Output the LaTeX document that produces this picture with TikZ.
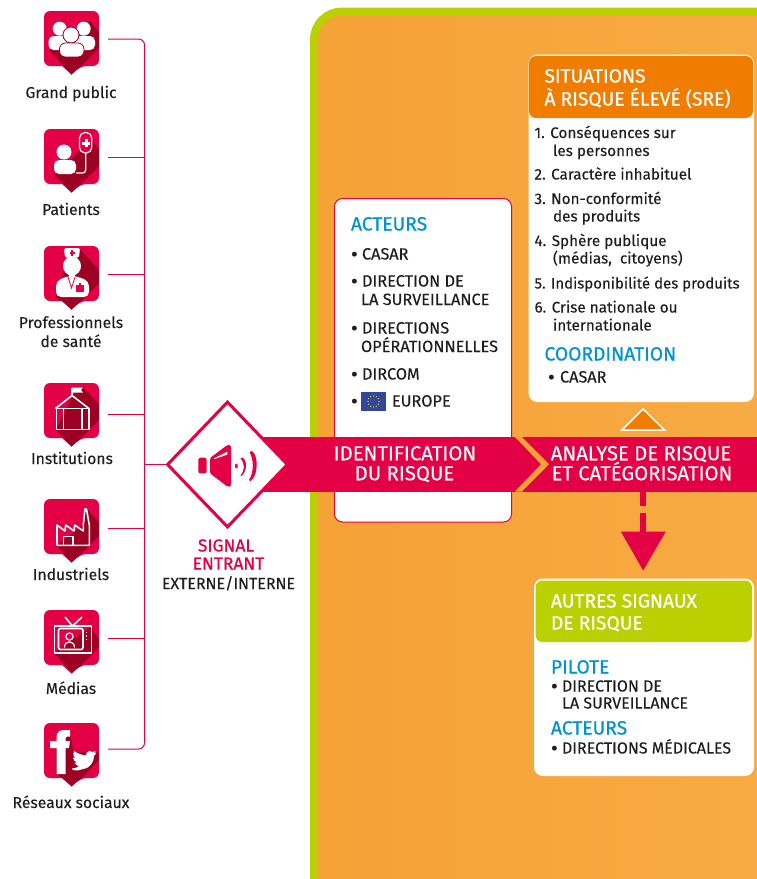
\documentclass[tikz,border=0pt]{standalone}
\usepackage{fontspec}
\setmainfont[FakeBold=0.12]{Fira Sans}
\newfontfamily\medfont[FakeBold=0.6]{Fira Sans}
\usetikzlibrary{shapes.geometric}
\definecolor{crim}{HTML}{E30045}
\definecolor{dark}{HTML}{9C0022}
\definecolor{lime}{HTML}{BBD000}
\definecolor{orL}{HTML}{F5A236}
\definecolor{orR}{HTML}{F8AB45}
\definecolor{orH}{HTML}{F07D00}
\definecolor{blu}{HTML}{0092D2}
\definecolor{ink}{HTML}{1E1E1E}
\definecolor{euflag}{HTML}{33469E}
\newcommand{\fs}[1]{\fontsize{#1}{#1}\selectfont}
\newcommand{\pinshape}{[rounded corners=6pt] (0,27) -- (0,0) -- (55,0) -- (55,55) -- (37,55) [sharp corners] -- (27.5,63.5) -- (18,55) [rounded corners=6pt] -- (0,55) -- cycle}
\newcommand{\pinicon}[5]{%
 \begin{scope}[shift={(#2,#3)}]
  \path[fill=crim] \pinshape;
  \begin{scope}\clip \pinshape; \fill[dark] #4 -- cycle;\end{scope}
  \node[inner sep=0,minimum width=55pt,minimum height=63pt,anchor=north west] (#1) at (0,0) {};
  #5
 \end{scope}}
\tikzset{
 x=1pt,y=-1pt,
 wire/.style={draw=crim,line width=1pt,rounded corners=6pt},
 lab/.style={inner sep=0,outer sep=0,font=\fs{15.7},text=ink,align=center,text height=11pt,text depth=1pt},
 tx/.style={inner sep=0,outer sep=0,anchor=west,font=\fs{15.3},text=ink,text height=11pt,text depth=1pt},
 itx/.style={tx},
 captx/.style={tx,font=\fs{16.3}},
 hd/.style={tx,font=\medfont\fs{19.2},text=white,text height=13pt},
 bh/.style={tx,font=\medfont\fs{19.2},text=blu,text height=13pt},
 band/.style={inner sep=0,outer sep=0,font=\fs{20.3},text=white,text height=13.5pt,text depth=1pt},
 wl/.style={draw=white,line width=1.6pt,fill=none,line join=round},
}
\newcommand{\bul}{\makebox[11pt][l]{\raisebox{-1.8pt}{\fs{21}•}}}
\begin{document}
\begin{tikzpicture}
\useasboundingbox (0,0) rectangle (757,879);
\clip (0,0) rectangle (757,879);
\fill[white] (0,0) rectangle (757,879);
% panel
\draw[lime,line width=8pt,rounded corners=28pt,left color=orL,right color=orR] (314,11.5) rectangle (800,930);
% pins
\pinicon{p1}{44}{11}{(5,39) -- (28,64) -- (55,37) -- (55,21) -- (46,10)}{
 \fill[white] (15.7,17.7) circle[radius=7pt];
 \fill[white] (39.7,17.7) circle[radius=7pt];
 \fill[white,rounded corners=5pt] (4.5,39) -- (4.5,25) -- (24,25) -- (24,39) -- cycle;
 \fill[white,rounded corners=5pt] (31,39) -- (31,25) -- (51,25) -- (51,39) -- cycle;
 \fill[white,draw=dark,line width=.8pt] (27,24) circle[radius=8pt];
 \fill[white,draw=dark,line width=.8pt,rounded corners=6pt] (15.5,46) -- (15.5,32) -- (40,32) -- (40,46) -- cycle;
 \fill[dark] (14.7,46) rectangle (40.8,46.3);
}
\pinicon{p2}{44}{129}{(10,45) -- (28,64) -- (55,37) -- (55,20) -- (48,12) -- (36,22)}{
 \fill[white] (20,23) circle[radius=7.5pt];
 \fill[white,rounded corners=5pt] (10,45) -- (10,31) -- (32,31) -- (32,45) -- cycle;
 \draw[white,line width=1.2pt,rounded corners=3pt] (41.7,24) -- (41.7,44) -- (32,44);
 \draw[white,line width=1.2pt,fill=crim,rounded corners=5.5pt] (35.5,3.5) rectangle (47.8,24);
 \fill[white] (38,12.6) rectangle (46,15.6);
 \fill[white] (40.5,10) rectangle (43.5,18);
}
\pinicon{p3}{44}{246}{(12,51) -- (28,64) -- (55,37) -- (55,24) -- (36,3) -- (24,12)}{
 \fill[white,rounded corners=1.5pt] (20,2) -- (36,2) -- (35,11.5) -- (21,11.5) -- cycle;
 \fill[crim] (25.5,6.2) rectangle (30.5,8); \fill[crim] (27.1,4.2) rectangle (28.9,10);
 \fill[white] (28,20) ellipse[x radius=9pt,y radius=9.5pt];
 \fill[white] (25,26) rectangle (31,33);
 \fill[white,rounded corners=5pt] (12,51) -- (12,35) -- (24,30) -- (32,30) -- (45,35) -- (45,51) -- cycle;
 \draw[crim,line width=.8pt] (24,31) -- (27.5,42) -- (31,31);
 \fill[crim] (32,38.5) rectangle (40,45.5); \fill[crim] (35,36.5) rectangle (37,39);
}
\pinicon{p4}{44}{383}{(12,46.5) -- (28,64) -- (55,37) -- (55,21) -- (39,4) -- (29,12)}{
 \draw[white,line width=1.6pt,line join=miter] (11.5,25.5) -- (28,12.5) -- (45,25.5);
 \draw[wl] (12.5,25.5) rectangle (45,46.5);
 \draw[wl] (19.5,25.5) -- (19.5,46.5) (38,25.5) -- (38,46.5);
 \draw[wl] (28,12.5) -- (28,5);
 \fill[white] (28,4.5) -- (39,4.5) -- (37,7) -- (39,9.5) -- (28,9.5) -- cycle;
}
\pinicon{p5}{44}{499}{(12.7,46.5) -- (28,64) -- (55,37) -- (55,23) -- (42,9) -- (39,26)}{
 \draw[wl] (13,46.3) -- (13,26) -- (21,32) -- (21.7,26) -- (30,32) -- (30.7,26) -- (39.3,32) -- (39.3,26) -- (41,10) -- (42.5,10) -- (45.3,26) -- (45.3,46.3) -- cycle;
 \draw[wl] (19.5,46.3) -- (19.5,37.5) -- (28.7,37.5) -- (28.7,46.3);
}
\pinicon{p6}{44}{610}{(10,43) -- (29,64) -- (55,37) -- (55,30) -- (47,17)}{
 \draw[wl] (21,7) -- (28.5,16) -- (38,7);
 \draw[wl] (10.5,16) rectangle (47.5,43);
 \draw[wl,rounded corners=2pt] (14.5,18.5) rectangle (39,39.5);
 \draw[white,line width=1.2pt] (25.5,26.5) circle[radius=3.6pt];
 \draw[white,line width=1.2pt] (20.5,37.5) .. controls (20.5,30) and (30.5,30) .. (30.5,37.5);
 \fill[white] (41.6,21.5) rectangle (43.2,23);
 \fill[white] (41.6,25) rectangle (43.2,26.5);
 \fill[white] (41.6,28.5) rectangle (43.2,30);
}
\pinicon{p7}{44}{723}{(12,50) -- (29,64) -- (55,37) -- (55,30) -- (48,28) -- (30,30) -- (25,7) -- (12,20)}{
 \fill[white] (12.5,51) -- (12.5,25) -- (6,25) -- (6,18) -- (12.5,18) -- (12.5,14) .. controls (12.5,9) and (16,7) .. (20,7) -- (26,7) -- (26,13.5) -- (23,13.5) .. controls (22,13.5) and (21.5,14) .. (21.5,15) -- (21.5,18) -- (26,18) -- (25,25) -- (21.5,25) -- (21.5,51) -- cycle;
 \fill[white] (29,47) .. controls (34,48) and (36,47) .. (39,46) .. controls (47,45) and (50,38) .. (50,33) .. controls (51,32) and (52,31) .. (52,29.5) .. controls (51,30) and (50.5,30) .. (50,30) .. controls (51,29) and (51,28.5) .. (51.5,28) .. controls (50,28.5) and (49.5,29) .. (48.5,29) .. controls (46,27) and (42,28) .. (42,32.5) .. controls (37,32) and (33,30) .. (30,28) .. controls (29,30) and (29,33) .. (31,35) .. controls (30,35) and (29.5,34.5) .. (29,34.5) .. controls (29,37) and (31,39) .. (33,39.5) .. controls (32,40) and (31,40) .. (30.5,39.5) .. controls (31,41.5) and (33,43) .. (35,43) .. controls (33.5,44.5) and (31,45.5) .. (28,45.5) -- cycle;
}
% wires
\coordinate (w1) at (108,39); \coordinate (w2) at (108,157); \coordinate (w3) at (108,274);
\coordinate (w4) at (108,414); \coordinate (w5) at (108,528); \coordinate (w6) at (108,638);
\coordinate (w7) at (108,749);
\coordinate (b1) at (144.5,39); \coordinate (b7) at (144.5,749);
\coordinate (b2) at (144.5,157); \coordinate (b3) at (144.5,274); \coordinate (b4) at (144.5,414);
\coordinate (b5) at (144.5,528); \coordinate (b6) at (144.5,638); \coordinate (bs) at (144.5,464.5);
\draw[wire] (w1) -- (b1) -- (b7) -- (w7);
\draw[wire] (w2) -- (b2); \draw[wire] (w3) -- (b3); \draw[wire] (w4) -- (b4);
\draw[wire] (w5) -- (b5); \draw[wire] (w6) -- (b6);
% actors box
\draw[crim,line width=1pt,fill=white,rounded corners=8pt] (334.5,198.5) rectangle (511.5,522);
% SRE box
\draw[white,line width=2pt,fill=white,rounded corners=8pt] (529.5,55.5) rectangle (753,401);
\fill[orH,rounded corners=7pt] (529,56) rectangle (753,118);
% small triangle
\draw[white,line width=1.5pt,fill=orH] (643,409) -- (664.5,430) -- (622,430) -- cycle;
% band
\fill[crim] (262,437) rectangle (757,491.5);
\fill[orL] (515,437) -- (522,437) -- (549,464.2) -- (522,491.5) -- (515,491.5) -- (541,464.2) -- cycle;
% dashed arrow
\fill[crim] (639.8,491.5) rectangle (646.4,505.7);
\fill[crim] (639.8,513) rectangle (646.4,532);
\fill[crim] (620.8,531.5) -- (665.8,531.5) -- (643.2,570.5) -- cycle;
% autres box
\draw[white,line width=2pt,fill=white,rounded corners=8pt] (535,579.5) rectangle (753,775);
\fill[lime,rounded corners=7pt] (535.5,580.5) rectangle (752,642);
% diamond
\node[diamond,draw=crim,line width=3pt,fill=white,inner sep=0,minimum width=121pt,minimum height=126pt] (sig) at (227.5,464.5) {};
\draw[wire,line width=.8pt] (bs) -- (sig.west);
% speaker
\fill[crim,rounded corners=1.5pt] (198.3,457.7) rectangle (206.7,473.3);
\fill[crim,rounded corners=1.5pt] (210,458) -- (227.3,445) -- (231,445) -- (231,486.5) -- (227.3,486.5) -- (210,473.3) -- cycle;
\fill[white] (214,458.4) -- (227.3,451.7) -- (227.3,454.6) -- (214,459.2) -- cycle;
\fill[crim] (236.4,466) ellipse[x radius=1.4pt,y radius=2.4pt];
\fill[crim] (240.5,458) .. controls (245,463) and (245,471) .. (240.5,475.5) -- (241.5,476) .. controls (246.5,472) and (248,461) .. (242.5,457.5) -- cycle;
\fill[crim] (249.5,452) .. controls (254,460) and (254,472) .. (249,480) -- (250.5,481) .. controls (258.5,476) and (258.5,455) .. (252,451) -- cycle;
% labels
\node[lab] (t1) at (71,93) {Grand public};
\node[lab] (t2) at (71,210) {Patients};
\node[lab] (t3) at (71,323) {Professionnels};
\node[lab] (t3b) at (71,342) {de santé};
\node[lab] (t4) at (72,459) {Institutions};
\node[lab] (t5) at (71,575) {Industriels};
\node[lab] (t6) at (71,689) {Médias};
\node[lab] (t7) at (71,803) {Réseaux sociaux};
\node[lab,font=\medfont\fs{17.4},text=crim,text height=12pt] (s1) at (226,546) {SIGNAL};
\node[lab,font=\medfont\fs{17.4},text=crim,text height=12pt] (s2) at (228.5,564) {ENTRANT};
\node[lab,font=\fs{16}] (s3) at (228.5,584) {EXTERNE/INTERNE};
\node[band] (i1) at (405,454) {IDENTIFICATION};
\node[band] (i2) at (404.5,474) {DU RISQUE};
\node[band] (a1) at (641,454) {ANALYSE DE RISQUE};
\node[band] (a2) at (642,474) {ET CATÉGORISATION};
% actors
\node[bh] (ac0) at (351,224.5) {ACTEURS};
\node[captx] (ac1) at (351,254.5) {\bul CASAR};
\node[captx] (ac2) at (351,281.5) {\bul DIRECTION DE};
\node[captx] (ac2b) at (361,300) {LA SURVEILLANCE};
\node[captx] (ac3) at (351,328.5) {\bul DIRECTIONS};
\node[captx] (ac3b) at (361,347) {OPÉRATIONNELLES};
\node[captx] (ac4) at (351,374.5) {\bul DIRCOM};
\node[captx] (ac5) at (351,401.5) {\bul};
\fill[euflag] (361,392) rectangle (386,411);
\foreach \a in {0,30,...,330}{\fill[yellow!90!orange] ({373.5+5.5*cos(\a)},{401.5+5.5*sin(\a)}) circle[radius=.6pt];}
\node[captx] (ac5b) at (392,401.5) {EUROPE};
% SRE text
\node[hd] (h1) at (544.5,76.5) {SITUATIONS};
\node[hd] (h2) at (544.5,99.5) {À RISQUE ÉLEVÉ (SRE)};
\node[itx] (l1) at (534.5,133) {1. Conséquences sur};
\node[itx] (l1b) at (553,151) {les personnes};
\node[itx] (l2) at (534.5,174.5) {2. Caractère inhabituel};
\node[itx] (l3) at (534.5,199) {3. Non-conformité};
\node[itx] (l3b) at (553,216.5) {des produits};
\node[itx] (l4) at (534.5,241) {4. Sphère publique};
\node[itx] (l4b) at (553,258.5) {(médias,\ \ citoyens)};
\node[itx,font=\fs{15}] (l5) at (534.5,283.5) {5. Indisponibilité des produits};
\node[itx] (l6) at (534.5,307.5) {6. Crise nationale ou};
\node[itx] (l6b) at (553,325.5) {internationale};
\node[bh] (co) at (544.5,354.5) {COORDINATION};
\node[captx] (co1) at (548,377.5) {\makebox[12pt][l]{\raisebox{-1.8pt}{\fs{21}•}}CASAR};
% autres text
\node[hd] (o1) at (551,601.5) {AUTRES SIGNAUX};
\node[hd] (o2) at (551,623.5) {DE RISQUE};
\node[bh] (pi) at (551,667.5) {PILOTE};
\node[captx,font=\fs{16}] (pi1) at (551,686.5) {\bul DIRECTION DE};
\node[captx,font=\fs{16}] (pi2) at (562,703.5) {LA SURVEILLANCE};
\node[bh] (ac) at (551,728.5) {ACTEURS};
\node[captx,font=\fs{16}] (ac9) at (551,748.5) {\bul DIRECTIONS MÉDICALES};
\end{tikzpicture}
\end{document}
